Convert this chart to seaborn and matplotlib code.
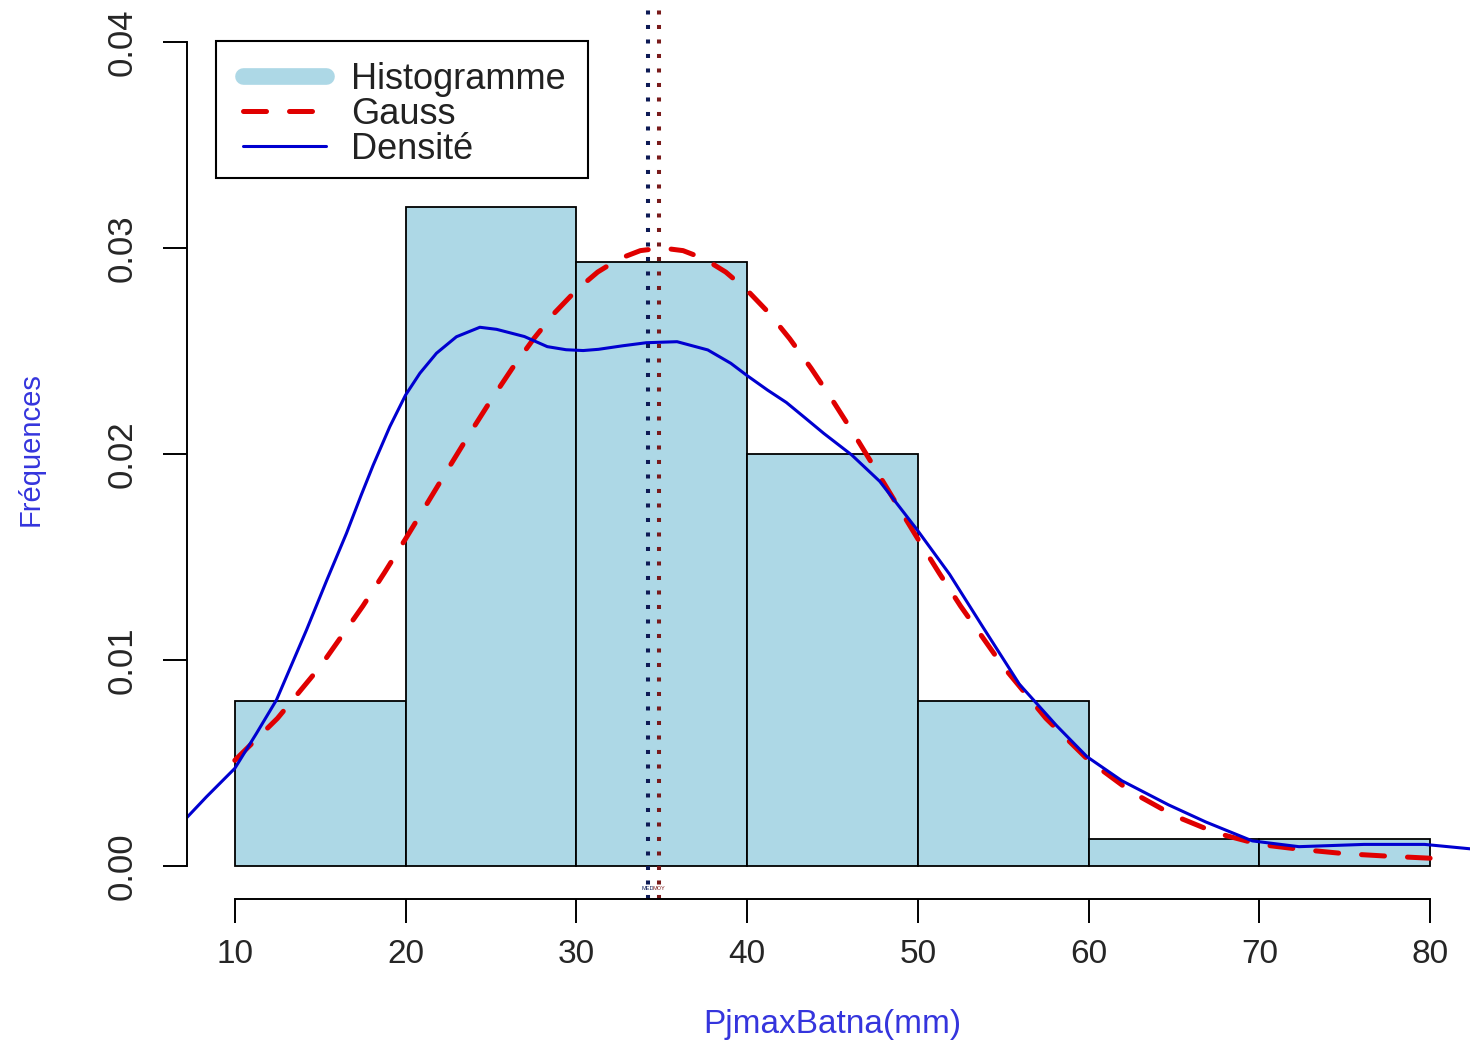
import matplotlib
matplotlib.use("Agg")
import matplotlib.pyplot as plt
import seaborn as sns
from matplotlib.lines import Line2D
from matplotlib.patches import Rectangle

# histogram counts (75 obs, bins of 10 mm)
bin_edges = [10, 20, 30, 40, 50, 60, 70, 80]
bin_mids = [15, 25, 35, 45, 55, 65, 75]
bin_counts = [6, 24, 22, 15, 6, 1, 1]

# normal curve
gauss_x = [10, 12.5, 15, 17.5, 18.75, 20, 21.25, 22.5, 23.75, 25, 26.25, 27.5, 28.75,
           30, 31.25, 32.5, 33.75, 35, 36.25, 37.5, 38.75, 40, 41.25, 42.5, 43.75,
           45, 46.25, 47.5, 48.75, 50, 51.25, 52.5, 55, 57.5, 60, 62.5, 65, 67.5,
           70, 72.5, 75, 77.5, 80]
gauss_y = [0.00513, 0.00717, 0.00968, 0.01262, 0.01422, 0.01588, 0.01758, 0.01929,
           0.02098, 0.02261, 0.02416, 0.02559, 0.02687, 0.02795, 0.02883, 0.02947,
           0.02987, 0.0300, 0.02987, 0.02947, 0.02883, 0.02795, 0.02687, 0.02559,
           0.02416, 0.02261, 0.02098, 0.01929, 0.01758, 0.01588, 0.01422, 0.01262,
           0.00968, 0.00717, 0.00513, 0.00360, 0.00245, 0.00160, 0.00105, 0.00080,
           0.00060, 0.00048, 0.00038]

# kernel density
dens_x = [7.2, 8.34, 10.0, 11.27, 12.44, 14.2, 15.4, 16.54, 17.4, 18.1, 19.08, 20.0,
          20.84, 21.81, 22.98, 24.35, 25.33, 26.96, 28.3, 29.4, 30.4, 31.3, 32.7,
          34.1, 35.9, 37.7, 39.05, 39.96, 41.2, 42.3, 43.4, 44.49, 46.13, 47.77,
          49.95, 51.86, 53.77, 55.95, 58.13, 59.9, 61.95, 64.68, 66.86, 69.59, 72.32,
          76.13, 79.68, 82.8]
dens_y = [0.00236, 0.00336, 0.00474, 0.00644, 0.00806, 0.01146, 0.0139, 0.01615,
          0.0180, 0.01945, 0.02133, 0.02286, 0.02392, 0.02489, 0.02569, 0.02615,
          0.02605, 0.0257, 0.02521, 0.02506, 0.02502, 0.02508, 0.02525, 0.0254,
          0.02545, 0.02505, 0.0244, 0.02383, 0.0231, 0.0225, 0.02175, 0.0210,
          0.01995, 0.01867, 0.01633, 0.01416, 0.01165, 0.00882, 0.00681, 0.00531,
          0.00414, 0.00297, 0.00214, 0.00122, 0.00094, 0.00105, 0.00105, 0.0008]

median_val = 34.2
mean_val = 34.85

sns.set_style("white")
plt.rcParams["font.family"] = ["Liberation Sans", "DejaVu Sans"]

fig = plt.figure(figsize=(14.7, 10.41), dpi=100)
ax = fig.add_axes([0.1272, 0.1364, 0.8782, 0.855])

sns.histplot(x=bin_mids, weights=bin_counts, bins=bin_edges, stat="density",
             color="#ADD8E6", edgecolor="black", linewidth=1.3, alpha=1, ax=ax)
sns.lineplot(x=gauss_x, y=gauss_y, color="#e00000", linewidth=3.6, ax=ax)
gline = ax.lines[-1]
gline.set_dashes((4.6, 4.6))
gline.set_dash_capstyle("round")
sns.lineplot(x=dens_x, y=dens_y, color="#0000d0", linewidth=2.2, ax=ax)

ax.axvline(median_val, color="#0d1a55", linewidth=2.9, linestyle=(0, (1, 2.6)))
ax.axvline(mean_val, color="#7a1a1a", linewidth=2.9, linestyle=(0, (1, 2.6)))
ax.text(median_val, -0.0011, "MED", color="#0d1a55", fontsize=4, ha="center", va="center")
ax.text(mean_val, -0.0011, "MOY", color="#7a1a1a", fontsize=4, ha="center", va="center")

ax.set_xlim(7.2, 82.8)
ax.set_ylim(-0.0016, 0.0416)
ax.set_xticks(bin_edges)
ax.set_yticks([0, 0.01, 0.02, 0.03, 0.04])
ax.set_yticklabels(["0.00", "0.01", "0.02", "0.03", "0.04"])

for s in ["top", "right"]:
    ax.spines[s].set_visible(False)
ax.spines["bottom"].set_bounds(10, 80)
ax.spines["left"].set_bounds(0, 0.04)
for s in ["bottom", "left"]:
    ax.spines[s].set_color("black")
    ax.spines[s].set_linewidth(1.4)

ax.tick_params(axis="both", direction="out", length=17, width=1.4, color="black",
               left=True, bottom=True)
ax.tick_params(axis="x", labelsize=24, pad=12)
ax.tick_params(axis="y", labelsize=23, pad=18, labelrotation=90)
for lab in ax.get_yticklabels():
    lab.set_va("center")
    lab.set_family(["Liberation Sans Narrow", "Liberation Sans", "DejaVu Sans"])
    lab.set_fontsize(25)

ax.set_xlabel("PjmaxBatna(mm)", fontsize=24, color="#3535dd")
ax.set_ylabel("Fréquences", fontsize=21, color="#3535dd")
ax.xaxis.set_label_coords(0.5, -0.124)
ax.yaxis.set_label_coords(-0.110, 0.505)

# legend: R-style box drawn separately
ax.add_patch(Rectangle((216 / 1470, 1 - 178 / 1041), 372 / 1470, 137 / 1041,
                       transform=fig.transFigure, facecolor="white", edgecolor="black",
                       linewidth=1.5, zorder=4.9, clip_on=False))
handles = [
    Line2D([], [], color="#ADD8E6", linewidth=12, solid_capstyle="round"),
    Line2D([], [], color="#e00000", linewidth=3.6, dashes=(4.6, 4.6), dash_capstyle="round"),
    Line2D([], [], color="#0000d0", linewidth=2.2),
]
leg = ax.legend(handles, ["Histogramme", "Gauss", "Densité"], loc="upper left",
                bbox_to_anchor=(243 / 1470, 1 - 62 / 1041), bbox_transform=fig.transFigure,
                fontsize=26, frameon=False, borderaxespad=0, borderpad=0,
                labelspacing=0, handlelength=2.3, handletextpad=0.7)
leg.set_zorder(5)
for t in leg.get_texts():
    t.set_color("#222222")

fig.savefig("out.png", dpi=100)
